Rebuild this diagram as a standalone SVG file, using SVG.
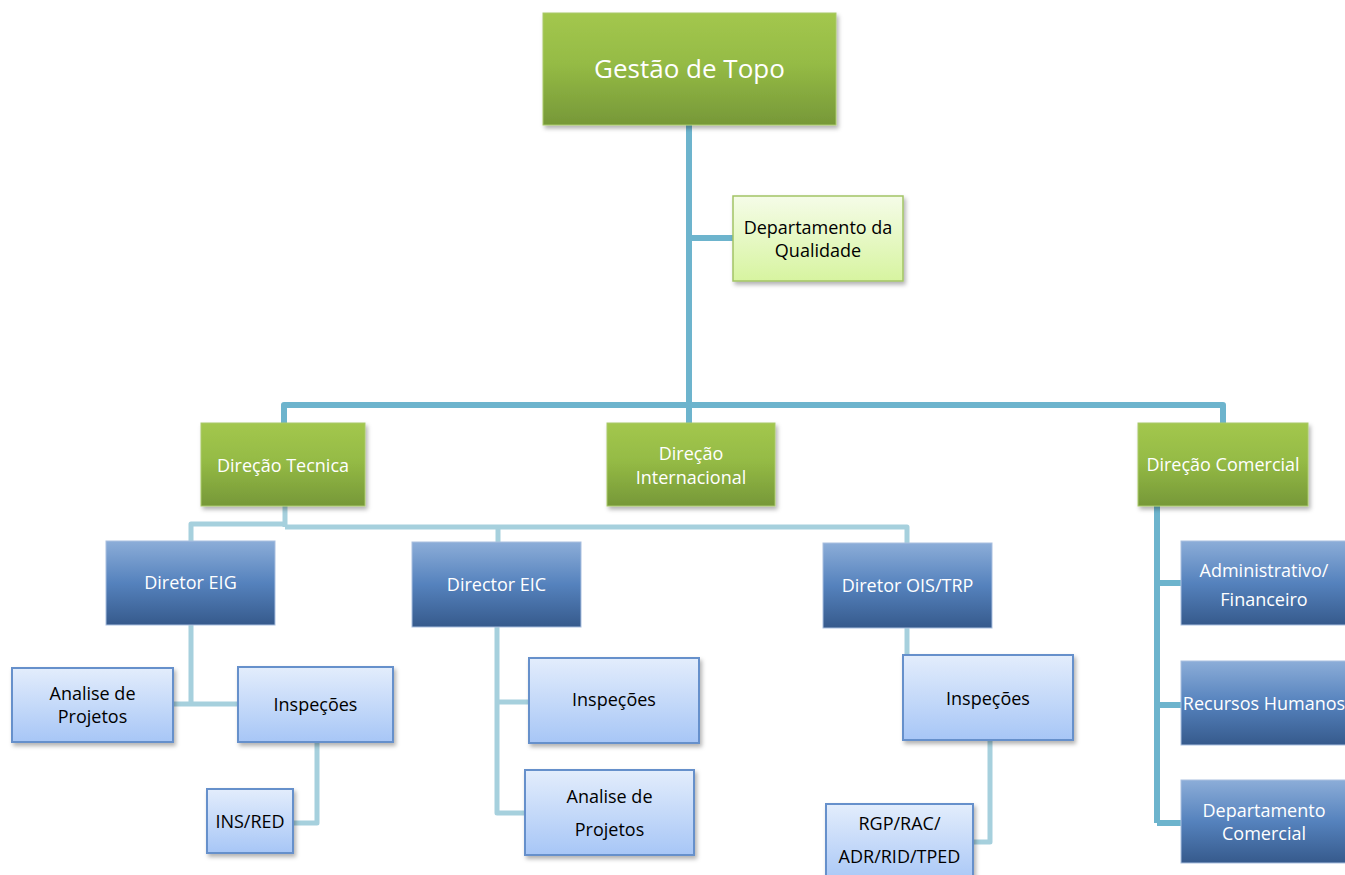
<svg xmlns="http://www.w3.org/2000/svg" width="1345" height="875" viewBox="0 0 1345 875">
<defs>
<linearGradient id="gGreen" x1="0" y1="0" x2="0" y2="1">
<stop offset="0" stop-color="#a3c74e"/><stop offset="0.45" stop-color="#95bb45"/><stop offset="1" stop-color="#769838"/>
</linearGradient>
<linearGradient id="gLight" x1="0" y1="0" x2="0" y2="1">
<stop offset="0" stop-color="#f5fce8"/><stop offset="1" stop-color="#d7f4a0"/>
</linearGradient>
<linearGradient id="gDark" x1="0" y1="0" x2="0" y2="1">
<stop offset="0" stop-color="#8cadd8"/><stop offset="0.5" stop-color="#5582bd"/><stop offset="1" stop-color="#365a8c"/>
</linearGradient>
<linearGradient id="gPale" x1="0" y1="0" x2="0" y2="1">
<stop offset="0" stop-color="#e3edfc"/><stop offset="1" stop-color="#a7c6f6"/>
</linearGradient>
<filter id="sh" x="-10%" y="-10%" width="125%" height="135%">
<feDropShadow dx="2" dy="3" stdDeviation="2" flood-color="#000" flood-opacity="0.3"/>
</filter>
</defs>
<style>
.green{fill:url(#gGreen);stroke:#a9c96a;stroke-width:1;filter:url(#sh)}
.light{fill:url(#gLight);stroke:#a3c465;stroke-width:1.5;filter:url(#sh)}
.dark{fill:url(#gDark);stroke:#a9bfdf;stroke-width:1}
.pale{fill:url(#gPale);stroke:#6690cb;stroke-width:2;filter:url(#sh)}
text{font-family:"Open Sans","Liberation Sans",sans-serif;font-size:18px;text-anchor:middle}
.w{fill:#ffffff}
.b{fill:#000000}
.top{fill:none;stroke:#6db4cd;stroke-width:6;stroke-linejoin:round}
.low{fill:none;stroke:#a6d0dd;stroke-width:5;stroke-linejoin:round}
</style>
<g id="connectors">
<path class="top" d="M689 125 V405"/>
<path class="top" d="M689 238 H733"/>
<path class="top" d="M284 423 V405 H1223 V423"/>
<path class="top" d="M689 405 V423"/>
<path class="top" d="M1157 506 V823"/>
<path class="top" d="M1157 583 H1181 M1157 705 H1181 M1157 823 H1181"/>
<path class="low" d="M285 506 V527"/>
<path class="low" d="M191 541 V524 H285"/>
<path class="low" d="M285 527 H907 V543"/>
<path class="low" d="M498 527 V542"/>
<path class="low" d="M191 625 V704 M173 704 H238"/>
<path class="low" d="M317 742 V823 H293"/>
<path class="low" d="M497 627 V813 H525 M497 702 H529"/>
<path class="low" d="M907 628 V660"/>
<path class="low" d="M990 740 V842 H973"/>
</g>
<g id="n-gestao"><rect class="green" x="543" y="13" width="293" height="112"/><text class="w" x="689.5" y="78" style="font-size:26px">Gestão de Topo</text></g>
<g id="n-qualidade"><rect class="light" x="733" y="196" width="170" height="85"/><text class="b" x="818" y="234">Departamento da</text><text class="b" x="818" y="257">Qualidade</text></g>
<g id="n-tecnica"><rect class="green" x="201" y="423" width="164" height="83"/><text class="w" x="283" y="472">Direção Tecnica</text></g>
<g id="n-internacional"><rect class="green" x="607" y="423" width="168" height="83"/><text class="w" x="691" y="460">Direção</text><text class="w" x="691" y="484">Internacional</text></g>
<g id="n-comercial"><rect class="green" x="1138" y="423" width="170" height="83"/><text class="w" x="1223" y="471">Direção Comercial</text></g>
<g id="n-eig"><rect class="dark" x="106" y="541" width="169" height="84"/><text class="w" x="190.5" y="589">Diretor EIG</text></g>
<g id="n-eic"><rect class="dark" x="412" y="542" width="169" height="85"/><text class="w" x="496.5" y="591">Director EIC</text></g>
<g id="n-ois"><rect class="dark" x="823" y="543" width="169" height="85"/><text class="w" x="907.5" y="592">Diretor OIS/TRP</text></g>
<g id="n-eig-analise"><rect class="pale" x="12" y="668" width="161" height="74"/><text class="b" x="92.5" y="700">Analise de</text><text class="b" x="92.5" y="723">Projetos</text></g>
<g id="n-eig-insp"><rect class="pale" x="238" y="667" width="155" height="75"/><text class="b" x="315.5" y="711">Inspeções</text></g>
<g id="n-insred"><rect class="pale" x="207" y="789" width="86" height="64"/><text class="b" x="250" y="828">INS/RED</text></g>
<g id="n-eic-insp"><rect class="pale" x="529" y="658" width="170" height="85"/><text class="b" x="614" y="706">Inspeções</text></g>
<g id="n-eic-analise"><rect class="pale" x="525" y="770" width="169" height="85"/><text class="b" x="609.5" y="803">Analise de</text><text class="b" x="609.5" y="836">Projetos</text></g>
<g id="n-ois-insp"><rect class="pale" x="903" y="655" width="170" height="85"/><text class="b" x="988" y="705">Inspeções</text></g>
<g id="n-rgp"><rect class="pale" x="826" y="804" width="147" height="80"/><text class="b" x="899.5" y="830">RGP/RAC/</text><text class="b" x="899.5" y="863">ADR/RID/TPED</text></g>
<g id="n-admin"><rect class="dark" x="1181" y="541" width="170" height="84"/><text class="w" x="1264" y="577">Administrativo/</text><text class="w" x="1264" y="606">Financeiro</text></g>
<g id="n-rh"><rect class="dark" x="1181" y="661" width="170" height="84"/><text class="w" x="1264" y="710">Recursos Humanos</text></g>
<g id="n-depcom"><rect class="dark" x="1181" y="780" width="170" height="83"/><text class="w" x="1264" y="817">Departamento</text><text class="w" x="1264" y="840">Comercial</text></g>
</svg>
